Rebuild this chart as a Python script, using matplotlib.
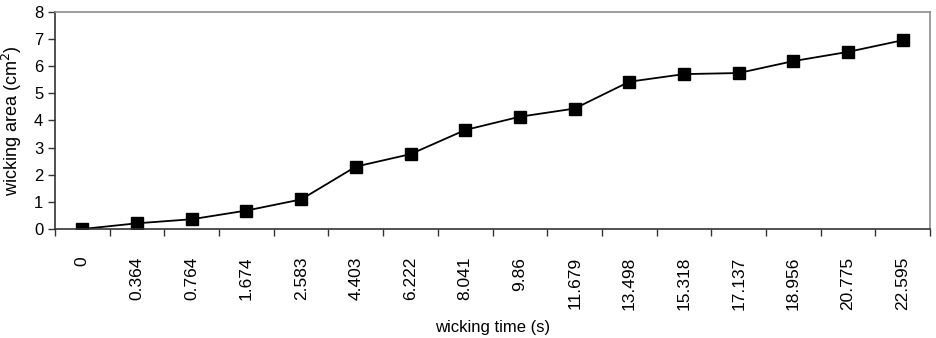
import matplotlib
matplotlib.use('Agg')
import matplotlib.pyplot as plt
import numpy as np

plt.rcParams['font.family'] = ['Liberation Sans', 'DejaVu Sans']

times = ['0', '0.364', '0.764', '1.674', '2.583', '4.403', '6.222', '8.041',
         '9.86', '11.679', '13.498', '15.318', '17.137', '18.956', '20.775', '22.595']
area = [0.0, 0.21, 0.36, 0.68, 1.09, 2.30, 2.76, 3.65,
        4.14, 4.44, 5.43, 5.71, 5.75, 6.19, 6.53, 6.96]

fig = plt.figure(figsize=(9.37, 3.38), dpi=100)
ax = fig.add_axes([0.0587, 0.3225, 0.934, 0.642])

x = np.arange(len(times))
ax.plot(x, area, color='black', linewidth=1.3, marker='s', markersize=8.5,
        markerfacecolor='black', markeredgecolor='black')

ax.set_xlim(-0.5, len(times) - 0.5)
ax.set_ylim(0, 8)
ax.set_yticks(range(0, 9))

# ticks between categories, labels at the centres
ax.set_xticks(np.arange(-0.5, len(times), 1.0))
ax.set_xticklabels([])
ax.set_xticks(x, minor=True)
ax.set_xticklabels(times, minor=True, rotation=90, fontsize=12.5)
ax.tick_params(axis='x', which='minor', length=0, pad=20)
ax.tick_params(axis='x', which='major', direction='out', length=5, width=1, color='#333333')
ax.tick_params(axis='y', direction='out', length=5, width=1, labelsize=12, color='#333333')

for s in ['top', 'right']:
    ax.spines[s].set_color('#8c8c8c')
    ax.spines[s].set_linewidth(1.2)
for s in ['left', 'bottom']:
    ax.spines[s].set_color('#333333')
    ax.spines[s].set_linewidth(1.2)

ax.set_ylabel('wicking area (cm$^2$)', fontsize=13, va='center')
ax.yaxis.set_label_coords(-0.049, 0.5)
ax.set_xlabel('wicking time (s)', fontsize=12,
              family=['Liberation Sans Narrow', 'Liberation Sans'], va='center')
ax.xaxis.set_label_coords(0.5, -0.455)

fig.savefig('out.png', dpi=100)
